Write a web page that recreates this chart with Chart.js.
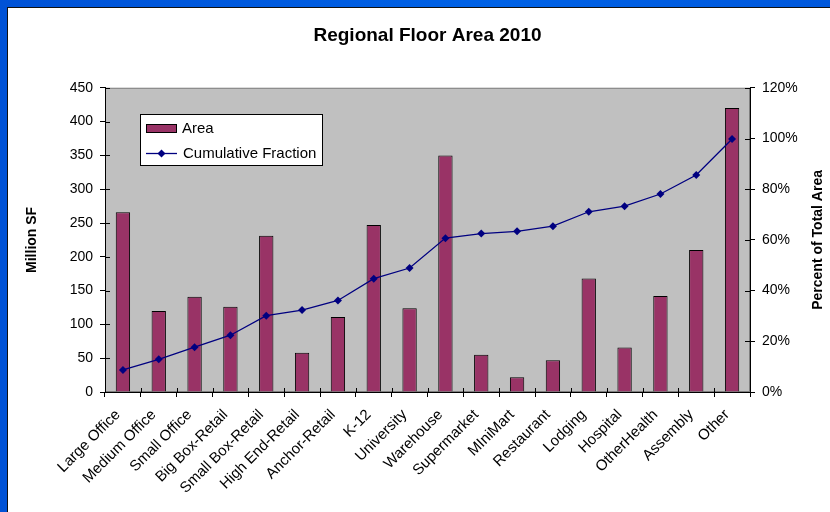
<!DOCTYPE html>
<html>
<head>
  <meta charset="utf-8">
  <title>Regional Floor Area 2010</title>
  <style type="text/css">
    body {
      margin: 0;
      width: 830px;
      height: 512px;
      overflow: hidden;
      background: linear-gradient(90deg, #0052d6 0%, #0062e6 60%, #0058dc 100%);
      font-family: 'Liberation Sans', Arial, sans-serif;
    }
    #panel {
      position: absolute;
      left: 7px;
      top: 7px;
      width: 823px;
      height: 505px;
      background: #ffffff;
      border-left: 1px solid #101010;
      border-top: 1px solid #101010;
    }
  </style>
  <script src="https://cdn.jsdelivr.net/npm/chart.js@4.4.0/dist/chart.umd.min.js"></script>
</head>
<body>
  <div id="panel">
    <canvas id="graph" width="822" height="504"></canvas>
  </div>
  <script>
    // data
    var categories = ["Large Office","Medium Office","Small Office","Big Box-Retail","Small Box-Retail","High End-Retail","Anchor-Retail","K-12","University","Warehouse","Supermarket","MIniMart","Restaurant","Lodging","Hospital","OtherHealth","Assembly","Other"];
    var areaValues = [266, 120, 141, 126, 231, 58, 111, 247, 124, 350, 55, 22, 47, 168, 66, 142, 210, 420];
    var cumulativePct = [8.7, 12.9, 17.7, 22.4, 30.1, 32.3, 36.1, 44.7, 48.9, 60.7, 62.5, 63.4, 65.4, 71.1, 73.3, 78.1, 85.6, 99.8];
    var leftTicks = [0, 50, 100, 150, 200, 250, 300, 350, 400, 450];
    var rightTicks = [0, 20, 40, 60, 80, 100, 120];

    var barColor = '#993366';
    var lineColor = '#000080';
    var fontFamily = "'Liberation Sans', Arial, sans-serif";

    // gray plot area with a gray frame
    var plotBackground = {
      id: 'plotBackground',
      beforeDraw: function (chart) {
        var ctx = chart.ctx;
        var a = chart.chartArea;
        ctx.save();
        ctx.fillStyle = '#c0c0c0';
        ctx.fillRect(a.left, a.top, a.right - a.left, a.bottom - a.top);
        ctx.strokeStyle = '#808080';
        ctx.lineWidth = 1;
        ctx.strokeRect(a.left + 0.5, a.top + 0.5, a.right - a.left - 1, a.bottom - a.top - 1);
        ctx.restore();
      }
    };

    // inner half of the cross tick marks + right axis title
    var extras = {
      id: 'extras',
      afterDraw: function (chart) {
        var ctx = chart.ctx;
        var a = chart.chartArea;
        var y = chart.scales.y, y1 = chart.scales.y1;
        ctx.save();
        ctx.strokeStyle = '#000';
        ctx.lineWidth = 1;
        ctx.beginPath();
        y.ticks.forEach(function (t) {
          var p = Math.round(y.getPixelForValue(t.value)) + 0.5;
          ctx.moveTo(a.left, p); ctx.lineTo(a.left + 5, p);
        });
        y1.ticks.forEach(function (t) {
          var p = Math.round(y1.getPixelForValue(t.value)) + 0.5;
          ctx.moveTo(a.right - 5, p); ctx.lineTo(a.right, p);
        });
        var step = (a.right - a.left) / categories.length;
        for (var i = 1; i < categories.length; i++) {
          var px = Math.round(a.left + i * step) + 0.5;
          ctx.moveTo(px, a.bottom - 4); ctx.lineTo(px, a.bottom);
        }
        ctx.stroke();

        ctx.fillStyle = '#000';
        ctx.font = 'bold 14px ' + fontFamily;
        ctx.textAlign = 'center';
        ctx.textBaseline = 'middle';
        ctx.translate(810, (a.top + a.bottom) / 2);
        ctx.rotate(-Math.PI / 2);
        ctx.fillText('Percent of Total Area', 0, 0);
        ctx.restore();
      }
    };

    // boxed legend inside the plot area
    var legendBox = {
      id: 'legendBox',
      afterDatasetsDraw: function (chart) {
        var ctx = chart.ctx;
        var a = chart.chartArea;
        var bx = Math.round(a.left + 35), by = Math.round(a.top + 26);
        var ds = chart.data.datasets;
        ctx.save();
        ctx.fillStyle = '#fff';
        ctx.fillRect(bx, by, 182, 51);
        ctx.strokeStyle = '#000';
        ctx.lineWidth = 1;
        ctx.strokeRect(bx + 0.5, by + 0.5, 182, 51);

        ctx.fillStyle = barColor;
        ctx.fillRect(bx + 6, by + 10, 31, 9);
        ctx.strokeRect(bx + 6.5, by + 10.5, 30, 8);

        ctx.strokeStyle = lineColor;
        ctx.lineWidth = 1.3;
        ctx.beginPath();
        ctx.moveTo(bx + 6, by + 39.5);
        ctx.lineTo(bx + 37, by + 39.5);
        ctx.stroke();
        ctx.fillStyle = lineColor;
        ctx.beginPath();
        ctx.moveTo(bx + 21.5, by + 35.5);
        ctx.lineTo(bx + 25.5, by + 39.5);
        ctx.lineTo(bx + 21.5, by + 43.5);
        ctx.lineTo(bx + 17.5, by + 39.5);
        ctx.closePath();
        ctx.fill();

        ctx.fillStyle = '#000';
        ctx.font = '15px ' + fontFamily;
        ctx.textAlign = 'left';
        ctx.textBaseline = 'middle';
        ctx.fillText(ds[0].label, bx + 42, by + 15);
        ctx.fillText(ds[1].label, bx + 43, by + 40);
        ctx.restore();
      }
    };

    var ctx = document.getElementById('graph').getContext('2d');
    window.myChart = new Chart(ctx, {
      data: {
        labels: categories,
        datasets: [
          {
            type: 'bar',
            label: 'Area',
            data: areaValues,
            backgroundColor: barColor,
            borderColor: '#000',
            borderWidth: 1,
            barPercentage: 0.4,
            categoryPercentage: 1,
            yAxisID: 'y',
            order: 2
          },
          {
            type: 'line',
            label: 'Cumulative Fraction',
            data: cumulativePct,
            borderColor: lineColor,
            backgroundColor: lineColor,
            borderWidth: 1.3,
            pointStyle: 'rectRot',
            pointRadius: 4,
            pointBorderWidth: 0,
            tension: 0,
            yAxisID: 'y1',
            order: 1
          }
        ]
      },
      options: {
        responsive: false,
        animation: false,
        layout: { padding: 0 },
        plugins: {
          legend: { display: false },
          tooltip: { enabled: false },
          title: {
            display: true,
            fullSize: false,
            text: 'Regional Floor Area 2010',
            color: '#000',
            font: { family: fontFamily, size: 19, weight: 'bold' },
            padding: { top: 16, bottom: 41 }
          }
        },
        scales: {
          x: {
            offset: true,
            grid: { offset: true, drawOnChartArea: false, drawTicks: true, tickLength: 5, color: '#000' },
            border: { color: '#000' },
            ticks: {
              color: '#000',
              font: { family: fontFamily, size: 15 },
              minRotation: 45,
              maxRotation: 45,
              autoSkip: false,
              padding: 9,
              labelOffset: -5
            },
            afterFit: function (s) { s.height = 120; }
          },
          y: {
            position: 'left',
            min: 0,
            max: 450,
            afterBuildTicks: function (s) { s.ticks = leftTicks.map(function (v) { return { value: v }; }); },
            grid: { drawOnChartArea: false, drawTicks: true, tickLength: 5, color: '#000' },
            border: { color: '#000' },
            ticks: { color: '#000', font: { family: fontFamily, size: 14 }, padding: 7 },
            title: {
              display: true,
              text: 'Million SF',
              color: '#000',
              font: { family: fontFamily, size: 14, weight: 'bold' },
              padding: { top: 16, bottom: 0 }
            },
            afterFit: function (s) { s.width = 97; }
          },
          y1: {
            position: 'right',
            min: 0,
            max: 120,
            afterBuildTicks: function (s) { s.ticks = rightTicks.map(function (v) { return { value: v }; }); },
            grid: { drawOnChartArea: false, drawTicks: true, tickLength: 5, color: '#000' },
            border: { color: '#000' },
            ticks: {
              color: '#000',
              font: { family: fontFamily, size: 14 },
              padding: 7,
              callback: function (v) { return v + '%'; }
            },
            afterFit: function (s) { s.width = 80; }
          }
        }
      },
      plugins: [plotBackground, legendBox, extras]
    });
  </script>
</body>
</html>
